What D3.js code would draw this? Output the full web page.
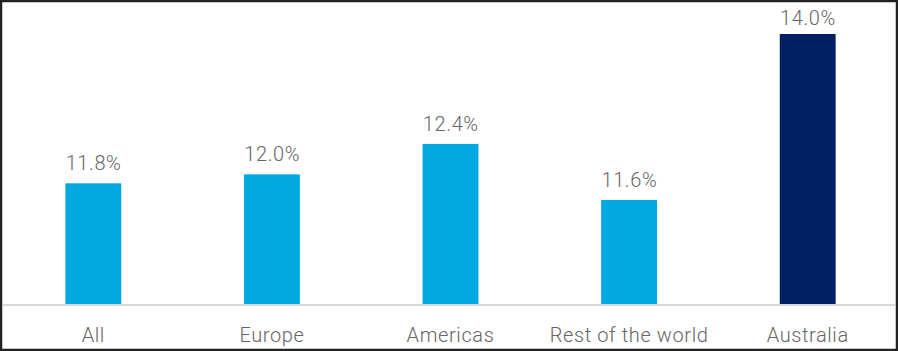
<!DOCTYPE html>
<html>
<head>
<meta charset="utf-8">
<script src="https://cdn.jsdelivr.net/npm/d3@7"></script>
<style>
    html, body { margin: 0; padding: 0; background: #fff; }
    svg { display: block; }
    text { font-family: Roboto, "DejaVu Sans", sans-serif; font-weight: 300; letter-spacing: 0.6px; }
</style>
</head>
<body>
<svg class="chart-svg"></svg>
<script>
// data
const regions = ["All", "Europe", "Americas", "Rest of the world", "Australia"];
const rates = [11.84, 11.97, 12.41, 11.6, 14.0];
const highlight = ["Australia"];

let size = {width: 898, height: 351};

let svg = d3.select(".chart-svg")
    .attr('width', size.width)
    .attr('height', size.height);

// outer frame
svg.append('rect')
    .attr('x', 1)
    .attr('y', 1)
    .attr('width', size.width - 2)
    .attr('height', size.height - 2)
    .attr('fill', 'none')
    .attr('stroke', '#222')
    .attr('stroke-width', 2.5);

let x = d3.scaleBand()
    .domain(regions)
    .range([4, 897])
    .paddingInner(0.687)
    .paddingOuter(0.3435);

let y = d3.scaleLinear()
    .domain([10.08, 14])
    .range([305, 34]);

let fmt = d3.format('.1f');

// baseline
svg.append('line')
    .attr('x1', 3)
    .attr('x2', 895)
    .attr('y1', 305)
    .attr('y2', 305)
    .attr('stroke', '#d9d9d9')
    .attr('stroke-width', 2);

let bars = svg.append('g');

bars.selectAll('rect')
    .data(regions)
    .join('rect')
    .attr('x', d => x(d))
    .attr('width', x.bandwidth())
    .attr('y', (d, i) => y(rates[i]))
    .attr('height', (d, i) => y.range()[0] - y(rates[i]) - 1)
    .attr('fill', d => highlight.includes(d) ? '#021f66' : '#00a9e0');

// value labels (kept inside the frame at the top)
bars.selectAll('text.value')
    .data(regions)
    .join('text')
    .attr('class', 'value')
    .attr('x', d => x(d) + x.bandwidth() / 2 + 0.3)
    .attr('y', (d, i) => Math.max(y(rates[i]) - 13, 25))
    .attr('text-anchor', 'middle')
    .attr('font-size', 20)
    .attr('fill', '#666')
    .text((d, i) => fmt(rates[i]) + '%');

// category axis
let axis = d3.axisBottom(x).tickSize(0).tickPadding(0);
let gx = svg.append('g')
    .attr('transform', 'translate(0, 342)')
    .call(axis);
gx.select('.domain').remove();
gx.selectAll('text')
    .attr('dy', 0)
    .attr('font-size', 20)
    .attr('font-family', null)
    .attr('fill', '#666');
</script>
</body>
</html>
